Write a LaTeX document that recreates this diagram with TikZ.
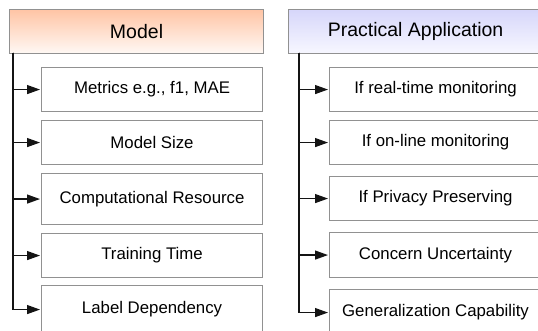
\documentclass[tikz,border=0pt]{standalone}
\usepackage{fontspec}
\setmainfont{Liberation Sans}
\usetikzlibrary{arrows.meta}
\definecolor{bordergray}{RGB}{145,145,145}
\definecolor{linegray}{RGB}{20,20,20}
\definecolor{orgtop}{RGB}{255,196,164}
\definecolor{orgbot}{RGB}{255,248,244}
\definecolor{blutop}{RGB}{214,214,250}
\definecolor{blubot}{RGB}{247,247,255}
\begin{document}
\begin{tikzpicture}[x=1pt,y=-1pt,
  hdr/.style={draw=bordergray, line width=1.1pt, minimum width=254pt, minimum height=44pt,
    inner sep=0pt, font=\fontsize{19.5}{22}\selectfont, anchor=north west},
  item/.style={draw=bordergray, line width=1.1pt, fill=white, inner sep=0pt,
    font=\fontsize{16.8}{20}\selectfont, anchor=north west},
  litem/.style={item, minimum width=221pt},
  ritem/.style={item, minimum width=212pt},
  conn/.style={draw=linegray, line width=1.3pt, shorten >=1pt,
    -{Triangle[length=13pt,width=9pt]}}]
\useasboundingbox (0,0) rectangle (538,330);
\clip (0,0) rectangle (538,330);
% left column
\node[hdr, top color=orgtop, bottom color=orgbot] (hL) at (9,8.5) {Model};
\node[litem, minimum height=44pt] (l1) at (41,67) {Metrics e.g., f1, MAE};
\node[litem, minimum height=44pt] (l2) at (41,120) {Model Size};
\node[litem, minimum height=51pt] (l3) at (41,173) {Computational Resource};
\node[litem, minimum height=44pt] (l4) at (41,233) {Training Time};
\node[litem, minimum height=48pt] (l5) at (41,285) {Label Dependency};
\coordinate (tL) at (13,52.5);
\foreach \n in {l1,l2,l3,l4,l5} \draw[conn] (tL) |- (\n.west);
% right column
\node[hdr, top color=blutop, bottom color=blubot] (hR) at (288,8.5) {Practical Application};
\node[ritem, minimum height=44pt] (r1) at (329,67) {If real-time monitoring};
\node[ritem, minimum height=44pt] (r2) at (329,120) {If on-line monitoring};
\node[ritem, minimum height=44pt] (r3) at (329,176) {If Privacy Preserving};
\node[ritem, minimum height=45pt] (r4) at (329,232) {Concern Uncertainty};
\node[ritem, minimum height=46pt] (r5) at (329,289) {Generalization Capability};
\coordinate (tR) at (299,52.5);
\foreach \n in {r1,r2,r3,r4,r5} \draw[conn] (tR) |- (\n.west);
\end{tikzpicture}
\end{document}
